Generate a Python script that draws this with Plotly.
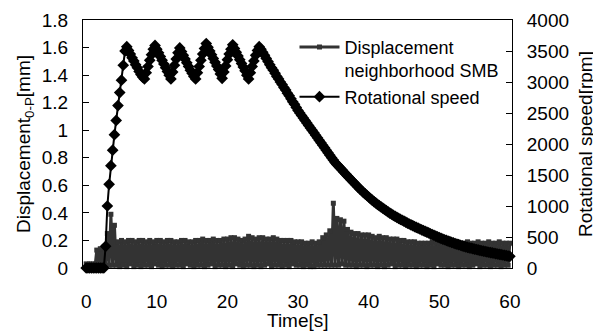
import plotly.graph_objects as go

# Sampling grid (seconds): first sample and sampling step
SAMPLE_START = 0.0
SAMPLE_STEP = 0.25

# Rotational speed [rpm], one value per 0.25 s, rows = 1 s
speed_rpm = [
    0, 0, 0, 0,
    0, 0, 0, 0,
    0, 0, 0, 350,
    1000, 1350, 1650, 1900,
    2150, 2380, 2620, 2830,
    3030, 3270, 3500, 3570,
    3510, 3450, 3390, 3340,
    3280, 3230, 3170, 3120,
    3080, 3050, 3150, 3250,
    3350, 3440, 3530, 3590,
    3530, 3470, 3410, 3350,
    3290, 3230, 3170, 3110,
    3050, 3160, 3270, 3370,
    3470, 3550, 3490, 3430,
    3370, 3310, 3250, 3190,
    3140, 3090, 3050, 3150,
    3250, 3350, 3450, 3540,
    3620, 3560, 3500, 3440,
    3380, 3320, 3260, 3200,
    3130, 3060, 3160, 3260,
    3360, 3450, 3530, 3600,
    3540, 3480, 3420, 3360,
    3300, 3240, 3180, 3110,
    3050, 3150, 3250, 3340,
    3430, 3510, 3570, 3530,
    3480, 3430, 3380, 3330,
    3280, 3230, 3190, 3140,
    3090, 3050, 3000, 2960,
    2910, 2870, 2820, 2780,
    2730, 2680, 2640, 2590,
    2540, 2500, 2460, 2420,
    2380, 2340, 2300, 2260,
    2220, 2180, 2140, 2100,
    2060, 2020, 1980, 1940,
    1900, 1860, 1820, 1780,
    1740, 1700, 1670, 1640,
    1610, 1580, 1545, 1515,
    1485, 1455, 1425, 1395,
    1365, 1335, 1305, 1275,
    1250, 1220, 1195, 1170,
    1145, 1120, 1095, 1070,
    1050, 1025, 1005, 985,
    965, 945, 925, 905,
    885, 868, 850, 833,
    817, 800, 785, 770,
    755, 740, 725, 710,
    696, 682, 668, 655,
    642, 629, 616, 603,
    590, 578, 565, 552,
    540, 528, 515, 502,
    490, 478, 467, 456,
    445, 434, 424, 414,
    404, 394, 385, 376,
    367, 358, 350, 342,
    334, 326, 319, 312,
    305, 298, 291, 284,
    278, 272, 266, 260,
    254, 248, 243, 238,
    232, 226, 221, 215,
    210, 204, 199, 193,
    188,
]

# Displacement (0-P) near SMB [mm], one value per 0.25 s, rows = 1 s
displacement_mm = [
    0.03, 0.01, 0.03, 0.01,
    0.03, 0.01, 0.13, 0.02,
    0.14, 0.02, 0.15, 0.02,
    0.25, 0.02, 0.39, 0.02,
    0.31, 0.02, 0.19, 0.01,
    0.20, 0.02, 0.19, 0.01,
    0.20, 0.03, 0.20, 0.01,
    0.19, 0.02, 0.20, 0.01,
    0.20, 0.02, 0.19, 0.02,
    0.20, 0.01, 0.19, 0.03,
    0.20, 0.02, 0.20, 0.01,
    0.19, 0.02, 0.20, 0.02,
    0.20, 0.01, 0.19, 0.02,
    0.19, 0.02, 0.20, 0.01,
    0.20, 0.03, 0.19, 0.02,
    0.19, 0.01, 0.20, 0.02,
    0.20, 0.02, 0.21, 0.01,
    0.20, 0.02, 0.20, 0.03,
    0.21, 0.01, 0.20, 0.02,
    0.20, 0.02, 0.21, 0.01,
    0.21, 0.02, 0.22, 0.01,
    0.22, 0.03, 0.21, 0.02,
    0.20, 0.01, 0.21, 0.02,
    0.23, 0.02, 0.22, 0.01,
    0.21, 0.02, 0.22, 0.01,
    0.22, 0.02, 0.21, 0.03,
    0.21, 0.01, 0.22, 0.02,
    0.21, 0.02, 0.20, 0.01,
    0.20, 0.02, 0.20, 0.01,
    0.20, 0.03, 0.19, 0.02,
    0.19, 0.02, 0.19, 0.01,
    0.18, 0.02, 0.18, 0.01,
    0.19, 0.01, 0.18, 0.02,
    0.19, 0.02, 0.22, 0.02,
    0.24, 0.02, 0.27, 0.02,
    0.47, 0.02, 0.36, 0.02,
    0.35, 0.03, 0.34, 0.02,
    0.28, 0.02, 0.26, 0.02,
    0.25, 0.01, 0.25, 0.02,
    0.24, 0.02, 0.24, 0.01,
    0.24, 0.02, 0.23, 0.02,
    0.22, 0.01, 0.23, 0.02,
    0.22, 0.01, 0.22, 0.02,
    0.21, 0.03, 0.21, 0.01,
    0.21, 0.02, 0.20, 0.02,
    0.20, 0.01, 0.19, 0.02,
    0.19, 0.02, 0.19, 0.01,
    0.18, 0.02, 0.18, 0.02,
    0.18, 0.01, 0.18, 0.02,
    0.19, 0.01, 0.18, 0.03,
    0.18, 0.02, 0.19, 0.02,
    0.18, 0.01, 0.18, 0.02,
    0.18, 0.02, 0.19, 0.01,
    0.18, 0.02, 0.18, 0.02,
    0.19, 0.01, 0.18, 0.02,
    0.18, 0.03, 0.19, 0.01,
    0.18, 0.02, 0.18, 0.02,
    0.19, 0.01, 0.18, 0.02,
    0.18, 0.02, 0.19, 0.01,
    0.18, 0.02, 0.18, 0.02,
    0.18,
]

x_ticks = [0, 10, 20, 30, 40, 50, 60]
series_names = ["Displacement<br>neighborhood SMB", "Rotational speed"]
x_title = "Time[s]"
y_title = "Displacement<sub>0-P</sub>[mm]"
y2_title = "Rotational speed[rpm]"

FONT = "Liberation Sans, Arial, sans-serif"

fig = go.Figure()
fig.add_trace(go.Scatter(
    x0=SAMPLE_START, dx=SAMPLE_STEP, y=displacement_mm,
    name=series_names[0], mode="lines+markers",
    line=dict(color="#333333", width=3),
    marker=dict(symbol="square", size=5, color="#333333"),
    cliponaxis=False, yaxis="y",
))
fig.add_trace(go.Scatter(
    x0=SAMPLE_START, dx=SAMPLE_STEP, y=speed_rpm,
    name=series_names[1], mode="lines+markers",
    line=dict(color="#000000", width=2),
    marker=dict(symbol="diamond", size=9, color="#000000"),
    cliponaxis=False, yaxis="y2",
))

# the page body adds an 8 px offset, so the figure is 8 px smaller each way
fig.update_layout(
    width=593, height=323,
    margin=dict(l=75, r=89, t=12, b=63),
    paper_bgcolor="white", plot_bgcolor="white",
    font=dict(family=FONT, size=19, color="black"),
    showlegend=True,
    legend=dict(
        x=0.493, y=0.965, xanchor="left", yanchor="top",
        bgcolor="rgba(0,0,0,0)", borderwidth=0,
        font=dict(size=18), valign="top",
        tracegroupgap=0, itemwidth=40,
    ),
    xaxis=dict(
        range=[-0.45, 60.3], tickvals=x_ticks, ticks="",
        showline=True, linecolor="black", linewidth=1, mirror=True,
        showgrid=False, zeroline=False, ticklabelstandoff=16,
        automargin=False,
    ),
    yaxis=dict(
        range=[0, 1.8], dtick=0.2, ticks="inside", ticklen=6, tickcolor="black",
        showline=True, linecolor="black", linewidth=1,
        showgrid=False, zeroline=False, ticklabelstandoff=10,
        title=dict(text=y_title, standoff=6, font=dict(size=19)),
        automargin=False,
    ),
    yaxis2=dict(
        range=[0, 4000], dtick=500, ticks="inside", ticklen=6, tickcolor="black",
        overlaying="y", side="right",
        showline=True, linecolor="black", linewidth=1,
        showgrid=False, zeroline=False, ticklabelstandoff=10,
        title=dict(text=y2_title, standoff=10, font=dict(size=19)),
        automargin=False,
    ),
    annotations=[dict(
        text=x_title, xref="paper", yref="paper", x=0.5, y=-0.21,
        xanchor="center", yanchor="middle", showarrow=False,
        font=dict(size=19),
    )],
)

fig.write_html("out.html")
